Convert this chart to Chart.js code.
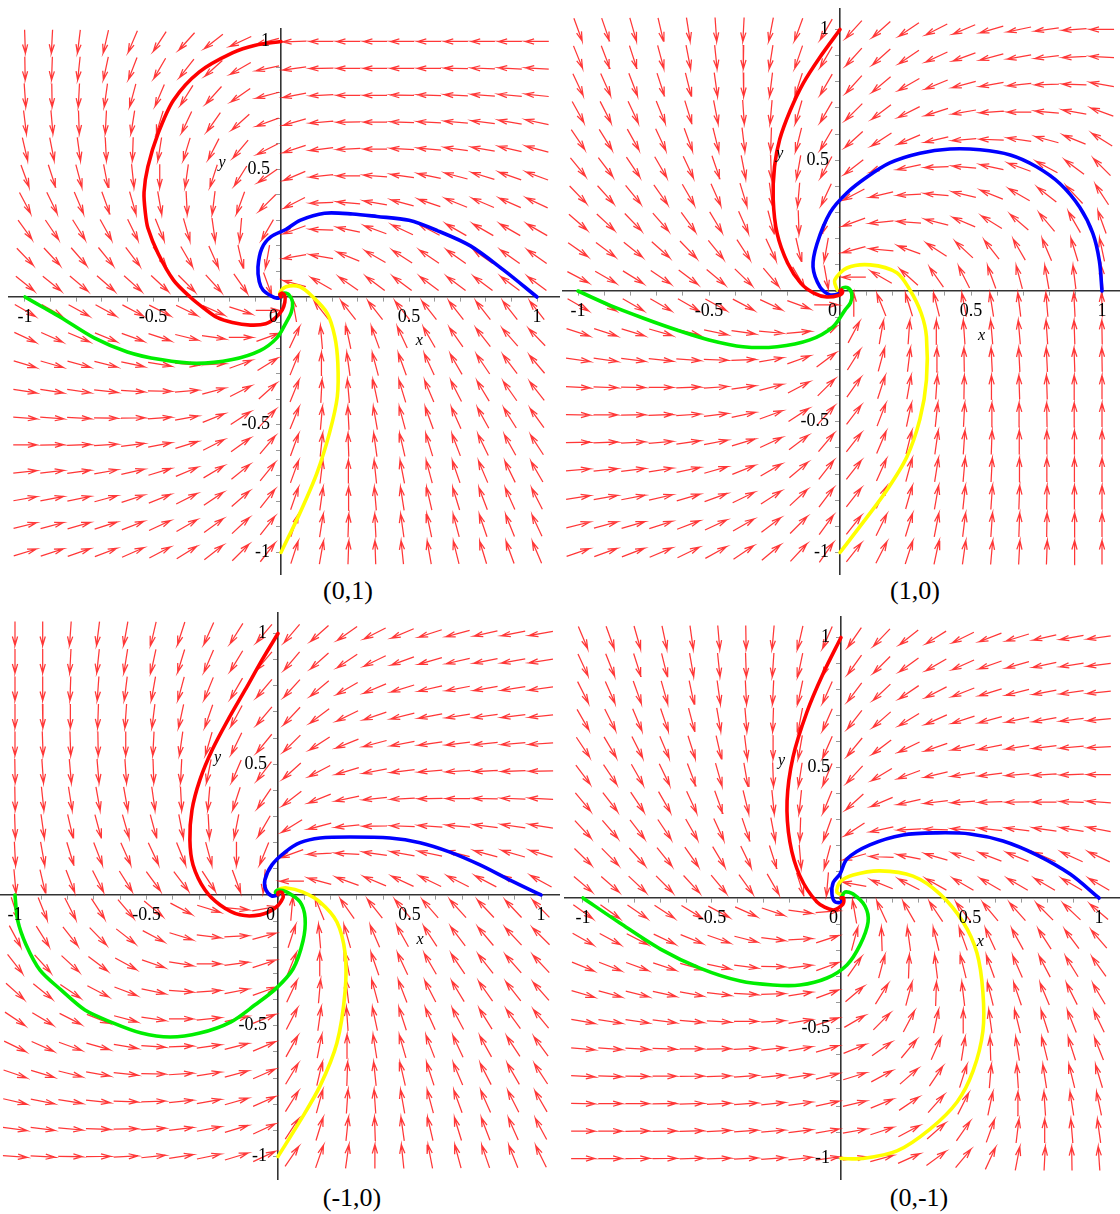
<!DOCTYPE html>
<html>
<head>
<meta charset="utf-8">
<script src="https://cdn.jsdelivr.net/npm/chart.js@4.4.1/dist/chart.umd.min.js"></script>
<style>
  body { margin: 0; background: #fff; width: 1120px; height: 1214px; position: relative; overflow: hidden; }
  canvas { position: absolute; }
  .cap { position: absolute; font-family: "Liberation Serif", "Times New Roman", serif; font-size: 26px; color: #000; transform: translate(-50%, -50%); white-space: nowrap; }
</style>
</head>
<body>
<canvas id="c1" width="552" height="547" style="left:8px;top:28px"></canvas>
<canvas id="c2" width="558" height="567" style="left:562px;top:8px"></canvas>
<canvas id="c3" width="560" height="568" style="left:0px;top:612px"></canvas>
<canvas id="c4" width="556" height="564" style="left:564px;top:616px"></canvas>
<div class="cap" style="left:348px;top:591px">(0,1)</div>
<div class="cap" style="left:915px;top:591px">(1,0)</div>
<div class="cap" style="left:352px;top:1198px">(-1,0)</div>
<div class="cap" style="left:919px;top:1198px">(0,-1)</div>
<script>
// panel captions
const captions = ['(0,1)', '(1,0)', '(-1,0)', '(0,-1)'];

// direction field sample points (20 x 20)
const gridX = [-1, -0.8947, -0.7895, -0.6842, -0.5789, -0.4737, -0.3684, -0.2632, -0.1579, -0.0526,
               0.0526, 0.1579, 0.2632, 0.3684, 0.4737, 0.5789, 0.6842, 0.7895, 0.8947, 1];
const gridY = [1, 0.8947, 0.7895, 0.6842, 0.5789, 0.4737, 0.3684, 0.2632, 0.1579, 0.0526,
               -0.0526, -0.1579, -0.2632, -0.3684, -0.4737, -0.5789, -0.6842, -0.7895, -0.8947, -1];

// tick labels
const xTicks = [-1, -0.5, 0, 0.5, 1];
const yTicks = [-1, -0.5, 0.5, 1];

// arrow directions in degrees, rows top to bottom
const fieldA = [
  [272,267,263,257,247,237,228,218,205,195, 182,180,180,180,180,180,180,180,180,180],
  [271,268,264,258,249,240,232,222,210,192, 188,181,180,180,180,180,179,178,177,177],
  [274,271,267,262,255,247,238,228,215,195, 191,183,180,180,179,178,177,176,175,174],
  [277,275,272,267,261,253,245,235,222,200, 196,185,181,180,178,177,175,173,170,168],
  [283,281,278,273,268,261,253,243,230,207, 198,187,183,180,177,175,172,170,167,165],
  [290,288,285,281,276,270,262,252,238,215, 203,186,180,176,172,168,165,163,161,160],
  [298,296,293,290,286,280,273,263,250,225, 207,182,175,170,165,161,158,157,156,155],
  [306,304,302,299,296,292,286,278,265,240, 200,178,168,160,155,152,150,150,150,150],
  [314,313,311,309,307,304,300,294,283,260, 190,170,158,150,147,146,145,145,145,145],
  [321,321,320,319,318,317,315,312,305,290, 165,150,145,143,143,143,143,143,143,143],
  [-30,-30,-29,-29,-28,-27,-26,-24,-18,0, 100,128,128,128,128,128,128,128,128,128],
  [-25,-24,-23,-22,-20,-18,-14,-8,0,20, 65,95,102,110,115,120,125,128,131,134],
  [-17,-16,-15,-14,-12,-9,-5,3,20,32, 68,90,98,105,110,115,120,124,127,130],
  [-9,-9,-8,-6,-4,-1,5,15,27,42, 68,87,95,102,107,113,117,121,125,128],
  [-4,-4,-3,-1,1,4,10,22,33,47, 68,85,93,100,105,110,114,119,122,126],
  [0,1,2,4,7,11,17,27,36,50, 70,84,92,98,103,107,111,116,119,123],
  [6,7,8,10,13,17,23,31,39,51, 70,83,90,96,101,105,109,113,116,120],
  [10,11,12,15,18,22,27,34,41,52, 71,82,89,95,99,103,107,111,114,117],
  [14,15,16,18,21,25,30,36,43,52, 72,81,88,93,98,102,105,109,112,115],
  [17,18,19,21,24,28,32,38,45,52, 72,80,88,92,96,100,104,107,110,113]
];
const fieldB = [
  [290,289,286,283,279,274,267,259,250,240, 228,222,214,207,203,196,192,188,184,180],
  [292,291,288,285,281,276,269,261,251,240, 228,222,214,205,200,195,190,187,183,177],
  [295,294,291,288,284,278,271,263,252,240, 228,220,210,202,195,190,186,182,178,170],
  [299,297,295,292,287,281,274,265,254,240, 225,217,207,198,190,184,180,175,170,160],
  [304,302,299,295,290,284,277,268,256,240, 222,213,203,193,185,178,172,165,158,148],
  [309,307,304,300,295,289,281,272,260,242, 218,205,192,182,175,168,160,152,143,135],
  [314,312,309,305,300,294,287,278,265,245, 208,193,183,175,167,158,150,142,133,123],
  [319,317,314,311,306,301,294,285,272,250, 200,186,176,166,157,148,139,130,120,110],
  [325,323,321,318,314,309,303,295,283,260, 195,175,160,147,137,128,120,113,107,102],
  [332,330,328,326,323,320,316,310,300,280, 180,150,138,125,117,110,105,100,97,94],
  [-30,-30,-30,-30,-30,-29,-28,-25,-20,0, 90,112,107,104,101,99,97,95,93,92],
  [-18,-18,-17,-16,-14,-12,-8,-5,5,30, 62,80,86,91,94,95,95,94,92,91],
  [-8,-8,-7,-6,-4,-2,2,10,20,37, 58,75,83,88,91,93,93,93,92,91],
  [-3,-2,-1,0,2,4,8,15,28,45, 55,72,80,86,89,91,92,92,91,90],
  [-1,0,1,2,4,7,12,20,33,48, 53,69,78,84,87,89,91,91,91,90],
  [1,2,3,5,8,11,17,25,37,50, 52,67,76,82,86,88,90,90,90,90],
  [5,6,7,9,12,16,22,30,40,52, 52,66,75,81,85,87,89,90,90,90],
  [9,10,11,13,16,20,26,33,43,53, 52,65,74,80,84,86,88,89,90,90],
  [14,15,16,18,21,25,30,37,45,54, 52,64,73,79,83,86,88,89,89,90],
  [19,20,21,23,26,29,34,40,47,55, 52,63,72,78,82,85,87,88,89,90]
];
const fieldC = [
  [270,270,266,263,260,257,252,246,238,230, 230,222,215,207,203,198,195,193,191,190],
  [270,270,267,264,261,258,253,247,239,230, 230,222,214,206,200,196,193,191,190,189],
  [270,270,268,266,263,260,255,248,240,230, 228,220,210,203,197,193,191,190,189,188],
  [270,271,270,268,266,263,258,251,242,230, 227,217,206,199,194,191,189,188,187,186],
  [270,272,272,271,270,267,262,254,244,231, 225,213,202,195,191,188,187,186,185,184],
  [271,274,275,275,274,272,267,259,247,233, 222,208,197,191,187,185,184,183,182,181],
  [271,276,279,280,280,278,273,265,252,236, 218,202,192,186,183,181,180,179,178,177],
  [272,278,283,285,286,285,281,273,259,240, 212,195,186,181,178,176,175,173,172,171],
  [273,280,287,291,294,295,292,285,270,248, 200,183,177,172,170,168,166,165,164,163],
  [275,283,291,297,302,306,307,303,290,265, 180,165,160,157,155,154,153,152,152,151],
  [288,292,297,303,310,320,332,343,355,10, 85,112,125,128,130,131,132,133,133,134],
  [298,302,308,314,322,332,343,353,3,15, 72,95,106,113,119,123,127,130,133,135],
  [308,312,317,323,331,341,351,0,8,18, 68,89,101,109,115,120,124,128,131,133],
  [318,321,326,332,339,348,356,4,11,20, 65,85,97,105,111,117,121,125,128,131],
  [326,329,333,338,345,352,0,6,13,22, 63,82,94,102,108,114,118,122,126,129],
  [334,336,340,344,350,356,2,8,14,23, 61,79,91,99,106,111,115,119,123,126],
  [341,343,346,350,354,359,4,9,15,24, 59,77,88,96,103,108,113,117,120,123],
  [347,349,351,354,358,2,6,10,16,24, 58,75,86,94,100,105,110,114,117,120],
  [352,353,355,358,1,4,7,11,17,25, 57,73,84,92,98,103,107,111,114,118],
  [356,357,359,1,3,6,9,12,17,25, 56,71,82,90,96,101,105,109,112,116]
];
const fieldD = [
  [293,290,286,282,278,275,271,265,257,246, 235,226,218,212,206,201,197,193,190,188],
  [295,292,288,284,280,276,272,266,258,246, 234,225,216,210,204,199,196,192,189,187],
  [297,294,290,286,282,278,273,267,258,246, 233,223,214,207,201,197,194,191,188,186],
  [300,297,293,289,285,280,275,268,259,246, 232,221,211,204,198,195,192,190,187,185],
  [304,301,297,293,288,283,277,270,260,246, 230,217,206,199,194,191,189,187,185,183],
  [307,304,300,296,291,286,280,272,261,247, 227,211,200,193,189,187,185,184,182,180],
  [310,308,304,300,295,290,284,276,264,248, 222,203,193,187,184,182,181,180,178,176],
  [313,311,308,304,300,295,289,281,268,250, 213,192,183,178,176,174,173,172,171,169],
  [316,315,312,309,305,301,296,288,275,255, 195,178,169,164,161,159,158,157,156,155],
  [320,319,317,315,313,310,306,300,288,265, 170,158,153,151,150,150,150,150,150,150],
  [-35,-35,-34,-33,-31,-28,-24,-18,-8,5, 100,115,120,124,128,130,132,135,137,140],
  [-29,-28,-27,-25,-22,-19,-14,-7,3,18, 75,92,98,104,110,115,119,123,127,131],
  [-22,-21,-20,-18,-15,-12,-7,-1,7,20, 55,75,88,97,104,110,114,118,122,126],
  [-16,-15,-14,-12,-10,-7,-3,2,9,20, 40,58,75,88,97,104,109,113,117,121],
  [-10,-9,-8,-7,-5,-3,0,4,10,18, 30,45,62,78,90,98,104,108,112,116],
  [-5,-4,-3,-2,0,1,3,6,10,16, 22,35,50,66,81,92,99,104,108,112],
  [-3,-2,-1,0,1,2,4,6,9,14, 17,28,41,56,72,85,94,99,104,107],
  [-1,0,0,1,2,3,4,6,8,12, 13,22,34,48,63,78,88,94,99,102],
  [0,0,1,1,2,3,4,5,7,10, 10,18,28,41,55,70,83,90,95,98],
  [0,0,1,1,2,2,3,4,6,8, 8,15,24,36,50,65,79,87,91,94]
];

// solution curves, starting at (0,1), (1,0), (-1,0), (0,-1)
const redA = [[0,1],[-0.1,0.985],[-0.19,0.955],[-0.32,0.88],[-0.42,0.77],[-0.48,0.64],[-0.52,0.51],[-0.535,0.41],[-0.53,0.33],[-0.52,0.27],[-0.48,0.17],[-0.42,0.066],[-0.355,0],[-0.3,-0.045],[-0.25,-0.08],[-0.19,-0.1],[-0.12,-0.11],[-0.06,-0.105],[-0.02,-0.08],[0.005,-0.05],[0.015,-0.02],[0.015,0.005],[0.005,0.015],[-0.005,0.01],[0,0]];
const blueA = [[1,0],[0.87,0.105],[0.74,0.2],[0.61,0.26],[0.5,0.3],[0.375,0.315],[0.28,0.325],[0.17,0.328],[0.074,0.3],[0.02,0.265],[-0.04,0.235],[-0.075,0.19],[-0.09,0.117],[-0.085,0.06],[-0.07,0.027],[-0.04,0.005],[-0.015,-0.005],[0,0]];
const greenA = [[-1,0],[-0.93,-0.04],[-0.86,-0.08],[-0.73,-0.16],[-0.6,-0.215],[-0.47,-0.245],[-0.33,-0.26],[-0.19,-0.245],[-0.082,-0.21],[-0.016,-0.16],[0.02,-0.1],[0.04,-0.06],[0.045,-0.02],[0.03,0.01],[0.01,0.015],[0,0]];
const yellowA = [[0,-1],[0.074,-0.845],[0.14,-0.69],[0.19,-0.53],[0.22,-0.39],[0.222,-0.26],[0.21,-0.155],[0.18,-0.063],[0.125,0],[0.074,0.04],[0.02,0.04],[-0.005,0.015],[0,0]];

const redB = [[0,1],[-0.076,0.895],[-0.14,0.795],[-0.19,0.69],[-0.23,0.58],[-0.25,0.475],[-0.255,0.35],[-0.24,0.22],[-0.2,0.107],[-0.15,0.03],[-0.1,-0.008],[-0.05,-0.023],[0,-0.015],[0.01,-0.005],[0.005,0.005],[0,0]];
const blueB = [[1,0],[0.99,0.115],[0.965,0.22],[0.915,0.32],[0.84,0.41],[0.75,0.475],[0.65,0.52],[0.535,0.54],[0.42,0.543],[0.305,0.527],[0.19,0.49],[0.103,0.436],[0.026,0.375],[-0.038,0.3],[-0.088,0.18],[-0.103,0.092],[-0.076,0.015],[-0.038,-0.015],[0,-0.008],[0,0]];
const greenB = [[-1,0],[-0.88,-0.054],[-0.75,-0.104],[-0.62,-0.15],[-0.5,-0.187],[-0.37,-0.213],[-0.24,-0.213],[-0.115,-0.187],[-0.027,-0.137],[0.019,-0.073],[0.04,-0.045],[0.045,-0.01],[0.03,0.012],[0.01,0.012],[0,0]];
const yellowB = [[0,-1],[0.088,-0.885],[0.18,-0.76],[0.255,-0.635],[0.305,-0.49],[0.33,-0.34],[0.33,-0.175],[0.31,-0.085],[0.267,0.004],[0.217,0.07],[0.115,0.1],[0.026,0.088],[-0.02,0.042],[-0.01,0.004],[0,0]];

const redC = [[0,1],[-0.06,0.9],[-0.125,0.784],[-0.19,0.67],[-0.25,0.555],[-0.297,0.44],[-0.327,0.325],[-0.335,0.21],[-0.323,0.115],[-0.278,0.02],[-0.22,-0.038],[-0.145,-0.076],[-0.068,-0.076],[-0.011,-0.05],[0.019,-0.011],[0.015,0.01],[0,0.01],[0,0]];
const blueC = [[1,0],[0.882,0.057],[0.768,0.115],[0.654,0.164],[0.54,0.2],[0.426,0.218],[0.274,0.222],[0.16,0.218],[0.084,0.2],[0.027,0.164],[-0.023,0.115],[-0.05,0.057],[-0.046,0.02],[-0.023,-0.004],[0,0]];
const greenC = [[-1,0],[-0.99,-0.096],[-0.958,-0.19],[-0.905,-0.287],[-0.825,-0.363],[-0.734,-0.44],[-0.635,-0.486],[-0.52,-0.528],[-0.41,-0.543],[-0.297,-0.528],[-0.18,-0.486],[-0.087,-0.42],[-0.01,-0.36],[0.057,-0.283],[0.095,-0.176],[0.103,-0.088],[0.084,-0.027],[0.034,0.011],[0,0.019],[-0.01,0.01],[0,0]];
const yellowC = [[0,-1],[0.084,-0.864],[0.16,-0.73],[0.224,-0.566],[0.255,-0.37],[0.255,-0.222],[0.224,-0.103],[0.16,-0.027],[0.095,0.011],[0.034,0.027],[0,0.019],[0,0]];

const redD = [[0,1],[-0.07,0.86],[-0.132,0.714],[-0.186,0.541],[-0.209,0.372],[-0.198,0.215],[-0.159,0.084],[-0.093,-0.015],[-0.031,-0.046],[0.008,-0.023],[0.01,0],[0,0]];
const blueD = [[1,0],[0.888,0.092],[0.76,0.165],[0.628,0.219],[0.5,0.246],[0.372,0.25],[0.24,0.242],[0.112,0.204],[0.023,0.15],[-0.004,0.092],[-0.03,0.06],[-0.035,0.015],[-0.023,-0.015],[0.004,-0.015],[0,0]];
const greenD = [[-1,0],[-0.857,-0.096],[-0.7,-0.196],[-0.547,-0.269],[-0.39,-0.319],[-0.264,-0.334],[-0.159,-0.334],[-0.054,-0.307],[0.023,-0.257],[0.074,-0.18],[0.105,-0.092],[0.093,-0.031],[0.047,0.015],[0.016,0.023],[0,0]];
const yellowD = [[0,-1],[0.085,-1],[0.217,-0.971],[0.345,-0.887],[0.45,-0.783],[0.512,-0.664],[0.55,-0.511],[0.55,-0.361],[0.527,-0.211],[0.473,-0.092],[0.384,0.015],[0.279,0.084],[0.151,0.104],[0.047,0.088],[-0.004,0.061],[-0.016,0.023],[0.008,0.008],[0,0]];

const curveColors = ['#ff0000', '#0000ff', '#00ee00', '#ffff00'];

// each panel: canvas, field, curves and visible x / y window
const panels = [
  { id: 'c1', field: fieldA, paths: [redA, blueA, greenA, yellowA], xr: [-1.0664, 1.0898], yr: [-1.0881, 1.0528] },
  { id: 'c2', field: fieldB, paths: [redB, blueB, greenB, yellowB], xr: [-1.0611, 1.0687], yr: [-1.0860, 1.0822] },
  { id: 'c3', field: fieldC, paths: [redC, blueC, greenC, yellowC], xr: [-1.0570, 1.0722], yr: [-1.0899, 1.0822] },
  { id: 'c4', field: fieldD, paths: [redD, blueD, greenD, yellowD], xr: [-1.0736, 1.0814], yr: [-1.0825, 1.0825] }
];

const ARROW = 0.092, HEAD = 0.036, BARB = 16 * Math.PI / 180;

// turn a grid of angles into arrow polylines (shaft + two barbs), broken by gaps
function fieldData(field) {
  const pts = [];
  field.forEach((row, i) => row.forEach((deg, j) => {
    const a = deg * Math.PI / 180;
    const cx = gridX[j], cy = gridY[i];
    const hx = Math.cos(a) * ARROW / 2, hy = Math.sin(a) * ARROW / 2;
    const tx = cx + hx, ty = cy + hy;
    pts.push({ x: cx - hx, y: cy - hy }, { x: tx, y: ty },
      { x: tx - HEAD * Math.cos(a - BARB), y: ty - HEAD * Math.sin(a - BARB) },
      { x: NaN, y: NaN },
      { x: tx, y: ty },
      { x: tx - HEAD * Math.cos(a + BARB), y: ty - HEAD * Math.sin(a + BARB) },
      { x: NaN, y: NaN });
  }));
  return pts;
}

const fmt = v => String(v);

// tick numbers and axis names, placed through the scales
const axisText = {
  id: 'axisText',
  afterDraw(chart) {
    const { ctx, scales: { x, y } } = chart;
    const x0 = x.getPixelForValue(0), y0 = y.getPixelForValue(0);
    ctx.save();
    ctx.fillStyle = '#000';
    ctx.font = '18px "Liberation Serif"';
    ctx.textBaseline = 'middle';
    xTicks.forEach(v => {
      if (v === 0) {
        ctx.textAlign = 'right';
        ctx.fillText(fmt(v), x0 - 3, y0 + 20);
      } else {
        ctx.textAlign = 'center';
        ctx.fillText(fmt(v), x.getPixelForValue(v), y0 + 20);
      }
    });
    ctx.textAlign = 'right';
    yTicks.forEach(v => ctx.fillText(fmt(v), x0 - 11, y.getPixelForValue(v)));
    ctx.font = 'italic 16px "Liberation Serif"';
    ctx.textAlign = 'center';
    ctx.fillText('x', x.getPixelForValue(0.54), y.getPixelForValue(-0.17));
    ctx.fillText('y', x.getPixelForValue(-0.23), y.getPixelForValue(0.525));
    ctx.restore();
  }
};

function axisOpts(min, max, pos) {
  return {
    type: 'linear', min, max, position: pos,
    border: { color: '#333', width: 1.6 },
    grid: { drawOnChartArea: false, drawTicks: true, tickLength: 4, color: '#999' },
    ticks: { display: false, stepSize: 0.1, includeBounds: false, autoSkip: false, maxTicksLimit: 100 }
  };
}

panels.forEach(p => {
  const curves = p.paths.map((path, k) => ({
    data: path.map(([x, y]) => ({ x, y })),
    showLine: true,
    borderColor: curveColors[k],
    borderWidth: 3.6,
    borderCapStyle: 'round',
    borderJoinStyle: 'round',
    pointRadius: 0,
    tension: 0.3,
    order: 1
  }));
  new Chart(document.getElementById(p.id), {
    type: 'scatter',
    data: {
      datasets: [...curves, {
        data: fieldData(p.field),
        showLine: true,
        borderColor: 'rgba(255,20,20,0.85)',
        borderWidth: 1.25,
        pointRadius: 0,
        tension: 0,
        order: 2
      }]
    },
    options: {
      responsive: false,
      animation: false,
      devicePixelRatio: 1,
      events: [],
      layout: { padding: 0 },
      plugins: { legend: { display: false }, tooltip: { enabled: false } },
      scales: {
        x: axisOpts(p.xr[0], p.xr[1], { y: 0 }),
        y: axisOpts(p.yr[0], p.yr[1], { x: 0 })
      }
    },
    plugins: [axisText]
  });
});
</script>
</body>
</html>
